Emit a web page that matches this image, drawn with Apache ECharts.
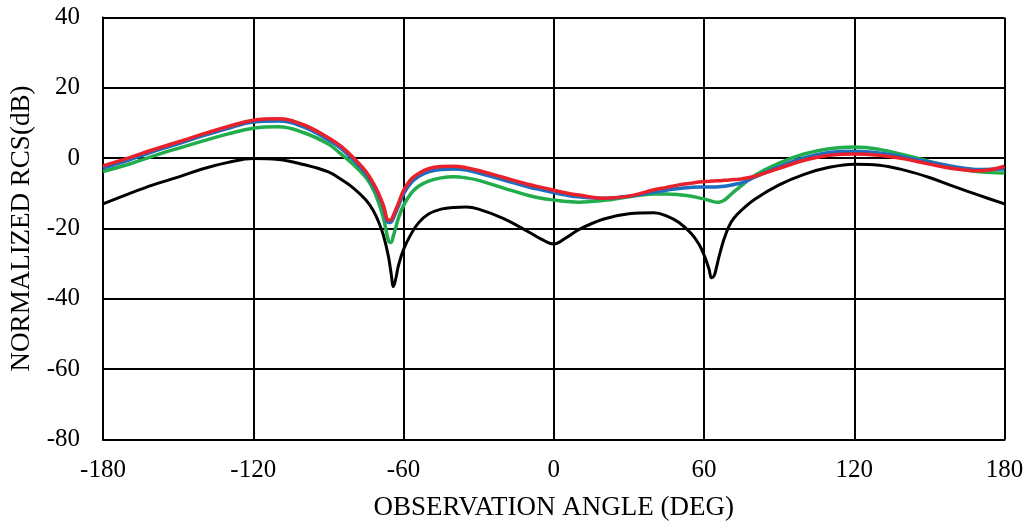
<!DOCTYPE html>
<html>
<head>
<meta charset="utf-8">
<script src="https://cdn.jsdelivr.net/npm/echarts@6/dist/echarts.min.js"></script>
<style>
  html, body { margin: 0; padding: 0; background: #fff; }
  #chart { width: 1029px; height: 529px; }
</style>
</head>
<body>
<div id="chart"></div>
<script>
// Observation angles (deg), shared by all curves
const angles = [-180,-170,-160,-150,-140,-130,-120,-110,-100,-90,-85,-80,-75,-72,-70,-68,-66,-65,-64,-63,-62,-60,-57,-54,-50,-45,-40,-35,-30,-20,-10,-5,0,5,10,20,30,40,45,50,55,58,60,62,63,64,65,66,68,70,72,75,80,90,100,110,120,130,140,150,160,170,180];

// Normalized RCS (dB) for each curve
const rcsBlack = [-13.0,-10.2,-7.6,-5.4,-3.0,-1.2,-0.1,-0.4,-1.8,-3.9,-6.0,-8.5,-11.9,-15.0,-18.0,-22.0,-28.0,-32.5,-36.5,-34.0,-30.5,-26.0,-21.6,-18.4,-15.9,-14.5,-14.0,-13.9,-14.5,-17.2,-21.0,-23.0,-24.4,-22.6,-20.3,-17.3,-15.8,-15.5,-16.4,-18.3,-21.5,-24.5,-27.5,-31.5,-34.0,-33.5,-31.0,-28.0,-23.0,-19.3,-17.0,-14.8,-11.8,-7.6,-4.6,-2.6,-1.7,-2.0,-3.4,-5.5,-8.1,-10.6,-13.0];
const rcsRed = [-2.2,0.0,2.4,4.6,6.9,9.0,10.8,11.2,9.5,5.8,3.4,0.1,-3.8,-7.2,-10.0,-13.5,-17.6,-17.5,-16.2,-14.5,-12.8,-9.2,-6.0,-4.4,-3.0,-2.4,-2.3,-2.7,-3.5,-5.5,-7.5,-8.3,-9.1,-9.9,-10.5,-11.4,-10.8,-9.0,-8.3,-7.6,-7.1,-6.8,-6.7,-6.6,-6.5,-6.5,-6.4,-6.4,-6.3,-6.2,-6.1,-5.9,-5.2,-2.9,-0.6,0.8,1.2,0.8,-0.2,-1.7,-3.0,-3.6,-2.3];
const rcsBlue = [-2.8,-0.6,1.9,4.1,6.4,8.5,10.3,10.6,8.9,5.2,2.8,-0.5,-4.4,-7.8,-10.5,-14.0,-18.3,-18.2,-17.0,-15.3,-13.6,-10.2,-7.0,-5.2,-3.9,-3.2,-3.1,-3.4,-4.2,-6.2,-8.2,-9.0,-9.8,-10.5,-11.0,-11.4,-10.8,-9.7,-9.1,-8.6,-8.3,-8.2,-8.2,-8.2,-8.2,-8.2,-8.2,-8.1,-8.0,-7.8,-7.5,-7.0,-5.5,-2.4,0.1,1.6,2.0,1.5,0.3,-1.1,-2.4,-3.2,-3.1];
const rcsGreen = [-3.8,-1.8,0.6,2.8,4.9,6.9,8.5,8.9,7.3,4.0,1.2,-1.8,-5.5,-9.0,-12.5,-17.0,-23.5,-24.0,-22.0,-19.5,-17.0,-13.5,-10.0,-8.0,-6.5,-5.6,-5.3,-5.6,-6.3,-8.5,-10.6,-11.4,-11.9,-12.3,-12.5,-12.0,-11.0,-10.2,-10.2,-10.4,-10.8,-11.3,-11.6,-12.0,-12.2,-12.4,-12.5,-12.5,-12.0,-10.8,-9.5,-7.8,-5.0,-1.4,1.2,2.7,3.2,2.5,0.9,-0.9,-2.7,-3.9,-4.2];

// Axis ranges and tick spacing
const xMin = -180, xMax = 180, xStep = 60;
const yMin = -80, yMax = 40, yStep = 20;

const xTitle = 'OBSERVATION ANGLE (DEG)';
const yTitle = 'NORMALIZED RCS(dB)';

const FONT = '"Liberation Serif", "Times New Roman", serif';

function pairs(values) {
  return angles.map((a, i) => [a, values[i]]);
}

function lineSeries(name, values, color, width) {
  return {
    name: name,
    type: 'line',
    data: pairs(values),
    smooth: 0.4,
    symbol: 'none',
    lineStyle: { color: color, width: width },
    emphasis: { disabled: true },
    animation: false
  };
}

const chart = echarts.init(document.getElementById('chart'), null, { renderer: 'canvas' });

chart.setOption({
  backgroundColor: '#ffffff',
  animation: false,
  grid: {
    left: 103, right: 24.5, top: 17.5, bottom: 89.5,
    containLabel: false,
    outerBoundsMode: 'none'
  },
  xAxis: {
    type: 'value',
    min: xMin, max: xMax, interval: xStep,
    name: xTitle,
    nameLocation: 'middle',
    nameGap: 55,
    nameTextStyle: { fontFamily: FONT, fontSize: 27, color: '#000' },
    axisLine: { show: true, onZero: false, lineStyle: { color: '#000', width: 2 } },
    axisTick: { show: false },
    axisLabel: { fontFamily: FONT, fontSize: 25, color: '#000', margin: 18 },
    splitLine: { show: true, lineStyle: { color: '#000', width: 2 } }
  },
  yAxis: {
    type: 'value',
    min: yMin, max: yMax, interval: yStep,
    name: yTitle,
    nameLocation: 'middle',
    nameGap: 66,
    nameRotate: 90,
    nameTextStyle: { fontFamily: FONT, fontSize: 27, color: '#000' },
    axisLine: { show: true, onZero: false, lineStyle: { color: '#000', width: 2 } },
    axisTick: { show: false },
    axisLabel: { fontFamily: FONT, fontSize: 25, color: '#000', margin: 23 },
    splitLine: { show: true, lineStyle: { color: '#000', width: 2 } }
  },
  series: [
    lineSeries('PEC', rcsBlack, '#000000', 3),
    lineSeries('Case C', rcsGreen, '#22AD4C', 3.5),
    lineSeries('Case B', rcsBlue, '#1E6EBF', 3.5),
    lineSeries('Case A', rcsRed, '#E8212B', 3.5)
  ]
});
</script>
</body>
</html>
